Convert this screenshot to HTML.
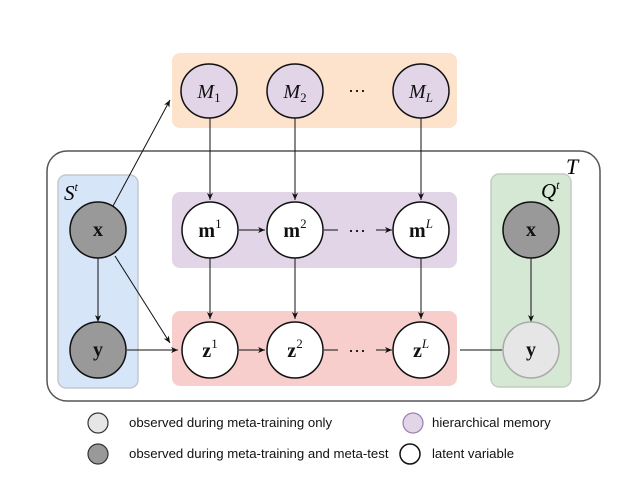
<!DOCTYPE html>
<html><head><meta charset="utf-8"><style>body{margin:0;background:#fff}svg{display:block}</style></head><body>
<svg width="629" height="479" viewBox="0 0 629 479" xmlns="http://www.w3.org/2000/svg">
<defs><marker id="a" markerWidth="8" markerHeight="8" refX="7" refY="4" orient="auto" markerUnits="userSpaceOnUse"><path d="M0,1 L7,4 L0,7 L2,4 Z" fill="#111"/></marker></defs>
<rect x="172" y="53" width="285" height="75" rx="8" fill="#fde2cc"/>
<rect x="47" y="151" width="553" height="250" rx="20" fill="none" stroke="#555" stroke-width="1.5"/>
<text x="566" y="174" font-family="Liberation Serif,serif" font-style="italic" font-size="22">T</text>
<rect x="58" y="175" width="80" height="213" rx="8" fill="#d6e5f7" stroke="#c4c8cc" stroke-width="1.5"/>
<rect x="491" y="174" width="80" height="213" rx="8" fill="#d5e8d4" stroke="#c4ccc3" stroke-width="1.5"/>
<rect x="172" y="192" width="285" height="76" rx="8" fill="#e1d5e7"/>
<rect x="172" y="311" width="285" height="75" rx="8" fill="#f8cecc"/>
<text x="64" y="200" font-family="Liberation Serif,serif" font-style="italic" font-size="21">S<tspan font-size="12" dy="-9">t</tspan></text>
<text x="541" y="198" font-family="Liberation Serif,serif" font-style="italic" font-size="21">Q<tspan font-size="12" dy="-9">t</tspan></text>
<g stroke="#111" stroke-width="1" fill="none">
<line x1="113" y1="206" x2="170" y2="100" marker-end="url(#a)"/>
<line x1="98" y1="258" x2="98" y2="322" marker-end="url(#a)"/>
<line x1="115" y1="256" x2="170" y2="343" marker-end="url(#a)"/>
<line x1="127" y1="350" x2="178" y2="350" marker-end="url(#a)"/>
<line x1="531" y1="258" x2="531" y2="322" marker-end="url(#a)"/>
<line x1="460" y1="350" x2="502" y2="350"/>
<line x1="210" y1="118" x2="210" y2="200" marker-end="url(#a)"/>
<line x1="295" y1="118" x2="295" y2="200" marker-end="url(#a)"/>
<line x1="421" y1="118" x2="421" y2="200" marker-end="url(#a)"/>
<line x1="210" y1="258" x2="210" y2="319" marker-end="url(#a)"/>
<line x1="295" y1="258" x2="295" y2="319" marker-end="url(#a)"/>
<line x1="421" y1="258" x2="421" y2="319" marker-end="url(#a)"/>
<line x1="239" y1="230" x2="265" y2="230" marker-end="url(#a)"/>
<line x1="239" y1="350" x2="265" y2="350" marker-end="url(#a)"/>
<line x1="324" y1="230" x2="392" y2="230" marker-end="url(#a)"/>
<line x1="324" y1="350" x2="392" y2="350" marker-end="url(#a)"/>
</g>
<rect x="338" y="224" width="38" height="12" fill="#e1d5e7"/>
<rect x="338" y="344" width="38" height="12" fill="#f8cecc"/>
<text x="357" y="237" text-anchor="middle" font-family="Liberation Serif,serif" font-size="18">···</text>
<text x="357" y="357" text-anchor="middle" font-family="Liberation Serif,serif" font-size="18">···</text>
<text x="357" y="97" text-anchor="middle" font-family="Liberation Serif,serif" font-size="18">···</text>
<g stroke="#111" stroke-width="1.5" font-family="Liberation Serif,serif" font-size="20" text-anchor="middle">
<ellipse cx="209" cy="91" rx="28" ry="27" fill="#e1d5e7"/>
<ellipse cx="295" cy="91" rx="28" ry="27" fill="#e1d5e7"/>
<ellipse cx="421" cy="91" rx="28" ry="27" fill="#e1d5e7"/>
<circle cx="98" cy="230" r="28" fill="#999"/>
<circle cx="98" cy="350" r="28" fill="#999"/>
<circle cx="531" cy="230" r="28" fill="#999"/>
<circle cx="531" cy="350" r="28" fill="#e6e6e6" stroke="#aaa"/>
<circle cx="210" cy="230" r="28" fill="#fff"/>
<circle cx="295" cy="230" r="28" fill="#fff"/>
<circle cx="421" cy="230" r="28" fill="#fff"/>
<circle cx="210" cy="350" r="28" fill="#fff"/>
<circle cx="295" cy="350" r="28" fill="#fff"/>
<circle cx="421" cy="350" r="28" fill="#fff"/>
</g>
<g font-family="Liberation Serif,serif" font-size="20" text-anchor="middle" fill="#111">
<text x="209" y="98" font-style="italic">M<tspan font-size="13" font-style="normal" dy="4">1</tspan></text>
<text x="295" y="98" font-style="italic">M<tspan font-size="13" font-style="normal" dy="4">2</tspan></text>
<text x="421" y="98" font-style="italic">M<tspan font-size="13" dy="4">L</tspan></text>
<text x="98" y="236" font-weight="bold">x</text>
<text x="98" y="356" font-weight="bold">y</text>
<text x="531" y="236" font-weight="bold">x</text>
<text x="531" y="356" font-weight="bold">y</text>
<text x="210" y="237" font-weight="bold">m<tspan font-size="13" font-weight="normal" dy="-9">1</tspan></text>
<text x="295" y="237" font-weight="bold">m<tspan font-size="13" font-weight="normal" dy="-9">2</tspan></text>
<text x="421" y="237" font-weight="bold">m<tspan font-size="13" font-weight="normal" font-style="italic" dy="-9">L</tspan></text>
<text x="210" y="357" font-weight="bold">z<tspan font-size="13" font-weight="normal" dy="-9">1</tspan></text>
<text x="295" y="357" font-weight="bold">z<tspan font-size="13" font-weight="normal" dy="-9">2</tspan></text>
<text x="421" y="357" font-weight="bold">z<tspan font-size="13" font-weight="normal" font-style="italic" dy="-9">L</tspan></text>
</g>
<g font-family="Liberation Sans,sans-serif" font-size="13.2" fill="#111">
<circle cx="98" cy="423" r="10" fill="#e6e6e6" stroke="#333" stroke-width="1.2"/>
<text x="129" y="427">observed during meta-training only</text>
<circle cx="98" cy="454" r="10" fill="#999" stroke="#333" stroke-width="1.2"/>
<text x="129" y="458">observed during meta-training and meta-test</text>
<circle cx="413" cy="423" r="10" fill="#e1d5e7" stroke="#9a7fb0" stroke-width="1.2"/>
<text x="432" y="427">hierarchical memory</text>
<circle cx="410" cy="454" r="10" fill="#fff" stroke="#111" stroke-width="1.5"/>
<text x="432" y="458">latent variable</text>
</g>
</svg>
</body></html>
